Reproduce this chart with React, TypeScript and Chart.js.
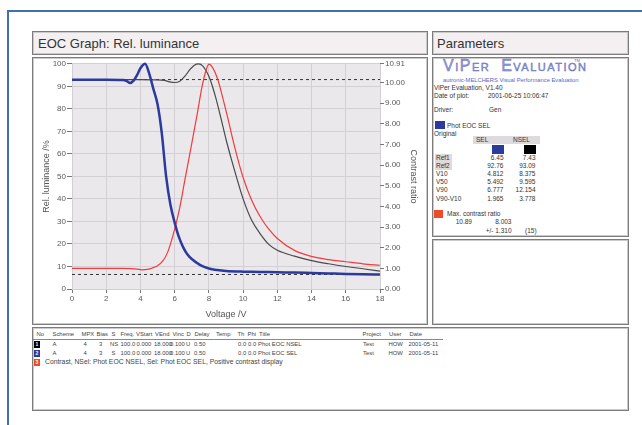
import React, { useEffect, useRef } from "react";
import { Chart, registerables } from "chart.js";

Chart.register(...registerables);

// ---------- chart data ----------
const X_MIN = 0;
const X_MAX = 18;
const X_STEP = 2;

// Phot EOC SEL (blue), relative luminance %
const SEL_V = [0, 1, 2, 3, 3.2, 3.4, 3.6, 3.8, 4.0, 4.27, 4.5, 4.75, 5.0, 5.25, 5.5, 5.75, 6.0, 6.25, 6.5, 6.75, 7.0, 7.5, 8.0, 8.5, 9.0, 10, 11, 12, 13, 14, 15, 16, 17, 18];
const SEL_LUM = [92.9, 92.9, 92.9, 92.8, 92.3, 91.5, 92.5, 95.0, 98.0, 100, 96.0, 89.0, 82.0, 69.0, 50.0, 37.5, 29.5, 23.0, 18.5, 15.3, 13.3, 10.6, 9.1, 8.4, 8.0, 7.7, 7.6, 7.4, 7.3, 7.1, 6.9, 6.7, 6.55, 6.45];

// Phot EOC NSEL (black), relative luminance %
const NSEL_V = [0, 1, 2, 3, 4, 5.0, 5.4, 5.7, 6.0, 6.3, 6.6, 6.9, 7.15, 7.4, 7.65, 7.9, 8.1, 8.4, 8.7, 9.0, 9.3, 9.6, 10.0, 10.5, 11, 11.5, 12, 13, 14, 15, 16, 17, 18];
const NSEL_LUM = [93, 93, 93, 93, 93, 92.9, 92.6, 92.0, 91.7, 92.3, 94.5, 97.5, 99.4, 100, 99.0, 96.0, 92.5, 85.0, 76.0, 66.5, 58.0, 50.0, 40.0, 30.5, 24.5, 19.8, 17.2, 14.6, 12.6, 11.2, 10.0, 9.0, 7.9];

// Contrast ratio NSEL/SEL (red), right axis
const CR_V = [0, 1, 2, 3, 3.5, 3.8, 4.1, 4.4, 4.7, 5.0, 5.3, 5.6, 6.0, 6.3, 6.6, 7.0, 7.3, 7.6, 7.8, 8.0, 8.2, 8.5, 8.8, 9.1, 9.5, 10.0, 10.5, 11, 11.5, 12, 13, 14, 15, 16, 17, 18];
const CR = [1.0, 1.0, 1.0, 1.0, 0.99, 0.96, 0.93, 0.95, 1.02, 1.13, 1.35, 1.8, 2.9, 3.95, 5.3, 7.05, 8.4, 9.8, 10.5, 10.89, 10.75, 10.2, 9.3, 8.3, 6.9, 5.4, 4.3, 3.5, 2.9, 2.45, 1.87, 1.58, 1.42, 1.32, 1.22, 1.15];

// reference (dashed) levels, %
const REF_HIGH = 93.0;
const REF_LOW = 6.45;

// axis ticks
const LEFT_MAX = 100;
const LEFT_STEP = 10;
const RIGHT_TICKS = [0, 1, 2, 3, 4, 5, 6, 7, 8, 9, 10, 10.91];

// ---------- parameter panel / table text ----------
const PARAM_ROWS = ["Ref1", "Ref2", "V10", "V50", "V90", "V90-V10"];
const PARAM_SEL = ["6.45", "92.76", "4.812", "5.492", "6.777", "1.965"];
const PARAM_NSEL = ["7.43", "93.09", "8.375", "9.595", "12.154", "3.778"];

const TABLE_HEAD = ["No", "Scheme", "MPX", "Bias", "S", "Freq.", "VStart", "VEnd", "Vinc", "D", "Delay", "Temp", "Th", "Phi", "Title", "Project", "User", "Date"];
const TABLE_HEAD_X = [36.5, 52.5, 81.5, 96.5, 111.5, 120.5, 136, 155, 172.5, 186.5, 194.5, 216, 237.5, 247.5, 259, 362.5, 389, 409.5];
const ROW1 = ["A", "4", "3", "NS", "100.0", "0.000", "18.000", "0.100", "U", "0.50", "0.0", "0.0", "Phot EOC NSEL", "Test", "HOW", "2001-05-11"];
const ROW2 = ["A", "4", "3", "S", "100.0", "0.000", "18.000", "0.100", "U", "0.50", "0.0", "0.0", "Phot EOC SEL", "Test", "HOW", "2001-05-11"];
const ROW1_X = [52.5, 83.5, 99, 110, 120.5, 136.5, 154, 170, 186, 194, 238, 248, 258, 363, 388.5, 408.5];
const ROW2_X = [52.5, 83.5, 99, 111.5, 120.5, 136.5, 154, 170, 186, 194, 238, 248, 258, 363, 388.5, 408.5];
const ROW3 = "Contrast, NSel: Phot EOC NSEL, Sel: Phot EOC SEL, Positive contrast display";

const FONT = '"Liberation Sans", Arial, Helvetica, sans-serif';
const BLUE = "#2b3a9e";
const BLACK = "#4a4a4a";
const RED = "#f03c3c";

function Panel({ x, y, w, h, bg = "#ffffff", children }: any) {
  return (
    <div
      style={{
        position: "absolute",
        left: x,
        top: y,
        width: w,
        height: h,
        boxSizing: "border-box",
        border: "1px solid #7c7c7c",
        boxShadow: "inset 0 0 0 1px #cbcbcb",
        background: bg,
      }}
    >
      {children}
    </div>
  );
}

function T({ x, y, s = 6.5, c = "#333", r = false, children, style }: any) {
  return (
    <div
      style={{
        position: "absolute",
        left: x,
        top: y - s * 0.6,
        fontSize: s,
        lineHeight: `${s * 1.2}px`,
        color: c,
        whiteSpace: "nowrap",
        fontFamily: FONT,
        transform: r ? "translateX(-100%)" : undefined,
        ...style,
      }}
    >
      {children}
    </div>
  );
}

function Sq({ x, y, w, h, c, n }: any) {
  return (
    <div
      style={{
        position: "absolute",
        left: x,
        top: y,
        width: w,
        height: h,
        background: c,
        color: "#fff",
        fontSize: 5,
        lineHeight: `${h}px`,
        textAlign: "center",
        fontFamily: FONT,
        fontWeight: "bold",
      }}
    >
      {n}
    </div>
  );
}

const plotBg = {
  id: "plotBg",
  beforeDraw(chart: any) {
    const { ctx, chartArea: a } = chart;
    ctx.save();
    ctx.fillStyle = "#ebe8eb";
    ctx.fillRect(a.left, a.top, a.right - a.left, a.bottom - a.top);
    ctx.restore();
  },
};

function EocChart() {
  const ref = useRef<HTMLCanvasElement | null>(null);

  useEffect(() => {
    if (!ref.current) return;
    const pts = (xs: number[], ys: number[]) => xs.map((v, i) => ({ x: v, y: ys[i] }));
    const tickFont = { family: FONT, size: 8 };
    const titleFont = { family: FONT, size: 9 };

    const chart = new Chart(ref.current, {
      type: "line",
      data: {
        datasets: [
          {
            label: "Phot EOC SEL",
            data: pts(SEL_V, SEL_LUM),
            borderColor: BLUE,
            borderWidth: 2.5,
            pointRadius: 0,
            cubicInterpolationMode: "monotone",
            yAxisID: "y",
            clip: false,
          },
          {
            label: "Contrast",
            data: pts(CR_V, CR),
            borderColor: RED,
            borderWidth: 1.2,
            pointRadius: 0,
            cubicInterpolationMode: "monotone",
            yAxisID: "y1",
            clip: false,
          },
          {
            label: "Phot EOC NSEL",
            data: pts(NSEL_V, NSEL_LUM),
            borderColor: BLACK,
            borderWidth: 1.2,
            pointRadius: 0,
            cubicInterpolationMode: "monotone",
            yAxisID: "y",
            clip: false,
          },
          {
            label: "Ref2",
            data: [
              { x: X_MIN, y: REF_HIGH },
              { x: X_MAX, y: REF_HIGH },
            ],
            borderColor: "#333",
            borderWidth: 1,
            borderDash: [3, 3],
            pointRadius: 0,
            yAxisID: "y",
          },
          {
            label: "Ref1",
            data: [
              { x: X_MIN, y: REF_LOW },
              { x: X_MAX, y: REF_LOW },
            ],
            borderColor: "#333",
            borderWidth: 1,
            borderDash: [3, 3],
            pointRadius: 0,
            yAxisID: "y",
          },
        ],
      },
      options: {
        animation: false,
        responsive: false,
        events: [],
        layout: { padding: { top: 2, left: 0, right: 0, bottom: 0 } },
        plugins: { legend: { display: false }, tooltip: { enabled: false } },
        scales: {
          x: {
            type: "linear",
            min: X_MIN,
            max: X_MAX,
            ticks: { stepSize: X_STEP, font: tickFont, color: "#5a5a5a", padding: 1 },
            grid: { color: "#d3cfd4", tickColor: "#777", tickLength: 4 },
            border: { display: false },
            title: { display: true, text: "Voltage /V", font: titleFont, color: "#555", padding: { top: 2, bottom: 4 } },
            afterFit: (s: any) => {
              s.height = 35;
            },
          },
          y: {
            type: "linear",
            position: "left",
            min: 0,
            max: LEFT_MAX,
            ticks: { stepSize: LEFT_STEP, font: tickFont, color: "#5a5a5a", padding: 1 },
            grid: { color: "#d3cfd4", tickColor: "#777", tickLength: 5 },
            border: { display: false },
            title: { display: true, text: "Rel. luminance /%", font: titleFont, color: "#555", padding: { top: 7, bottom: 2 } },
            afterFit: (s: any) => {
              s.width = 38;
            },
          },
          y1: {
            type: "linear",
            position: "right",
            min: 0,
            max: RIGHT_TICKS[RIGHT_TICKS.length - 1],
            afterBuildTicks: (s: any) => {
              s.ticks = RIGHT_TICKS.map((v) => ({ value: v }));
            },
            ticks: {
              font: tickFont,
              color: "#5a5a5a",
              padding: 1,
              callback: (v: any) => Number(v).toFixed(2),
            },
            grid: { drawOnChartArea: false, tickColor: "#777", tickLength: 4 },
            border: { display: false },
            title: { display: true, text: "Contrast ratio", font: titleFont, color: "#555", padding: { top: 7, bottom: 2 } },
            afterFit: (s: any) => {
              s.width = 46;
            },
          },
        },
      },
      plugins: [plotBg],
    } as any);
    return () => chart.destroy();
  }, []);

  return (
    <canvas
      ref={ref}
      width={392}
      height={266}
      style={{ position: "absolute", left: 34, top: 58, width: 392, height: 266 }}
    />
  );
}

export default function App() {
  const rowY = [157.5, 166, 174, 182, 190, 198.5];
  const TS = 5.9;
  return (
    <div style={{ position: "absolute", left: 0, top: 0, width: 642, height: 425, overflow: "hidden", background: "#fff", fontFamily: FONT }}>
      {/* outer blue frame */}
      <div style={{ position: "absolute", left: 7, top: 10, width: 700, height: 500, borderTop: "2px solid #4270ad", borderLeft: "2px solid #4270ad" }} />

      {/* chart header + panel */}
      <Panel x={32} y={31} w={396} h={24} bg="#f4f0f2">
        <div style={{ position: "absolute", left: 5, top: 4, fontSize: 13, lineHeight: "15px", color: "#333", fontFamily: FONT, whiteSpace: "nowrap" }}>
          EOC Graph: Rel. luminance
        </div>
      </Panel>
      <Panel x={32} y={57} w={396} h={268} />
      <EocChart />

      {/* parameters header + panels */}
      <Panel x={432} y={31} w={197} h={24} bg="#f4f0f2">
        <div style={{ position: "absolute", left: 4, top: 4, fontSize: 13, lineHeight: "15px", color: "#333", fontFamily: FONT, whiteSpace: "nowrap" }}>
          Parameters
        </div>
      </Panel>
      <Panel x={432} y={57} w={197} h={180} />
      <Panel x={432} y={239} w={197} h={86} />

      {/* logo */}
      <div
        style={{
          position: "absolute",
          left: 443,
          top: 57,
          fontSize: 16,
          lineHeight: "18px",
          fontVariant: "small-caps",
          letterSpacing: 1.5,
          wordSpacing: 5,
          color: "#98a0dc",
          WebkitTextStroke: "0.4px #5863b4",
          fontFamily: FONT,
          whiteSpace: "nowrap",
        }}
      >
        ViPer Evaluation
      </div>
      <T x={574} y={61} s={4} c="#5863b4">TM</T>
      <T x={443} y={80} s={5.8} c="#5566cc">autronic-MELCHERS Visual Performance Evaluation</T>
      <T x={434} y={87.5}>ViPer Evaluation, V1.40</T>
      <T x={434} y={96}>Date of plot:</T>
      <T x={488} y={96}>2001-06-25 10:06:47</T>
      <T x={434} y={110}>Driver:</T>
      <T x={489} y={110}>Gen</T>
      <Sq x={435} y={121} w={10} h={8} c={BLUE} />
      <T x={447} y={125.5}>Phot EOC SEL</T>
      <T x={434} y={134}>Original</T>
      <div style={{ position: "absolute", left: 473, top: 136, width: 67, height: 8, background: "#dedadd" }} />
      <T x={476} y={140}>SEL</T>
      <T x={513} y={140}>NSEL</T>
      <Sq x={492} y={145} w={12} h={9} c={BLUE} />
      <Sq x={524} y={145} w={12} h={9} c="#000" />
      {PARAM_ROWS.map((lab, i) => (
        <React.Fragment key={lab}>
          {i < 2 && <div style={{ position: "absolute", left: 435, top: rowY[i] - 4, width: 17, height: 8, background: "#dedadd" }} />}
          <T x={436} y={rowY[i]}>{lab}</T>
          <T x={503.5} y={rowY[i]} r>{PARAM_SEL[i]}</T>
          <T x={535.5} y={rowY[i]} r>{PARAM_NSEL[i]}</T>
        </React.Fragment>
      ))}
      <Sq x={434} y={210} w={9} h={8} c="#f04a28" />
      <T x={447} y={214}>Max. contrast ratio</T>
      <T x={472} y={222} r>10.89</T>
      <T x={511.5} y={222} r>8.003</T>
      <T x={511.5} y={231} r>+/- 1.310</T>
      <T x={525} y={231}>(15)</T>

      {/* measurement table */}
      <Panel x={32} y={327} w={597} h={84} />
      {TABLE_HEAD.map((h, i) => (
        <T key={h} x={TABLE_HEAD_X[i]} y={335} s={TS} c="#444">{h}</T>
      ))}
      <div style={{ position: "absolute", left: 33, top: 338.5, width: 410, height: 1, background: "#8a8a8a" }} />
      <Sq x={34} y={341} w={6} h={7} c="#000" n="1" />
      {ROW1.map((v, i) => (
        <T key={"r1" + i} x={ROW1_X[i]} y={344.5} s={TS} c="#444">{v}</T>
      ))}
      <Sq x={34} y={350} w={6} h={7} c={BLUE} n="2" />
      {ROW2.map((v, i) => (
        <T key={"r2" + i} x={ROW2_X[i]} y={353.5} s={TS} c="#444">{v}</T>
      ))}
      <Sq x={34} y={359} w={6} h={7} c="#f04a28" n="3" />
      <T x={45} y={362.5} s={6.8} c="#444">{ROW3}</T>
    </div>
  );
}
